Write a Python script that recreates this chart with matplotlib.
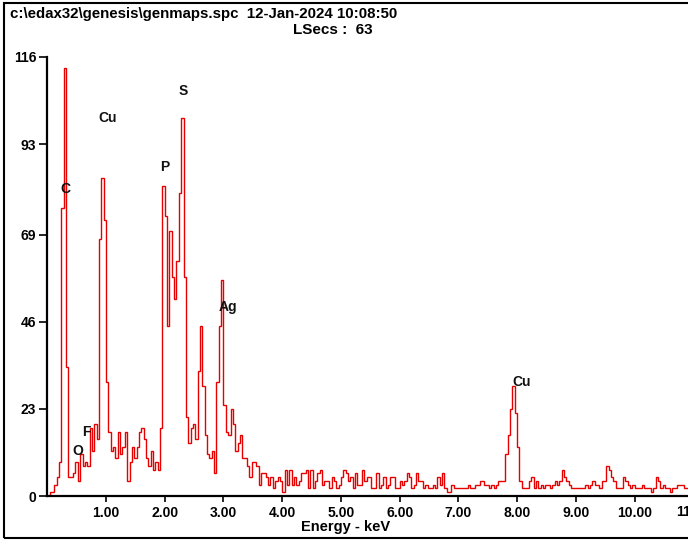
import numpy as np
import matplotlib
matplotlib.use("Agg")
import matplotlib.pyplot as plt
from matplotlib.patches import Rectangle
from matplotlib import transforms

plt.rcParams['font.family'] = ['Liberation Sans', 'DejaVu Sans']

# Spectrum header
HEADER = r"c:\edax32\genesis\genmaps.spc  12-Jan-2024 10:08:50"
LIVE_TIME = "LSecs :  63"

# Energy width of one channel (keV)
CHANNEL_KEV = 0.04

# Counts per channel, starting at 0 keV
counts = [
    0, 1, 1, 3, 5, 9, 76, 113, 34, 5, 5, 6, 9, 4, 11, 8, 9, 8, 18, 12,
    19, 15, 68, 84, 73, 30, 17, 12, 13, 10, 17, 11, 13, 17, 4, 9, 13, 10, 13, 17,
    18, 15, 10, 8, 12, 7, 9, 7, 18, 82, 74, 45, 70, 58, 52, 62, 80, 100, 58, 21,
    14, 18, 19, 15, 33, 45, 29, 16, 11, 10, 12, 6, 30, 45, 57, 24, 17, 16, 23, 19,
    12, 14, 16, 10, 10, 8, 5, 9, 9, 8, 3, 6, 6, 5, 3, 5, 2, 4, 5, 4,
    1, 7, 3, 7, 3, 5, 3, 4, 6, 6, 7, 2, 7, 2, 4, 6, 7, 3, 4, 4,
    2, 5, 4, 2, 3, 5, 7, 6, 4, 5, 2, 6, 3, 3, 7, 4, 5, 5, 2, 2,
    6, 2, 3, 5, 2, 3, 5, 5, 2, 2, 4, 3, 4, 6, 5, 2, 3, 6, 4, 4,
    2, 3, 2, 2, 3, 2, 5, 3, 6, 2, 1, 1, 3, 2, 2, 2, 2, 2, 2, 3,
    2, 2, 3, 3, 4, 4, 3, 3, 2, 3, 2, 3, 4, 4, 4, 11, 16, 23, 29, 22,
    13, 4, 2, 2, 2, 4, 5, 2, 4, 2, 3, 2, 3, 3, 2, 3, 4, 3, 4, 7,
    5, 4, 3, 2, 2, 2, 2, 2, 2, 3, 2, 3, 4, 3, 3, 2, 4, 4, 8, 7,
    5, 4, 2, 2, 2, 5, 4, 3, 2, 3, 2, 2, 2, 3, 2, 2, 2, 1, 2, 5,
    4, 2, 3, 2, 2, 1, 2, 2, 3, 3, 3, 2, 2,
]

# Axis ticks
y_ticks = [0, 23, 46, 69, 93, 116]
x_ticks = [1, 2, 3, 4, 5, 6, 7, 8, 9, 10]
x_tick_labels = ["1.00", "2.00", "3.00", "4.00", "5.00",
                 "6.00", "7.00", "8.00", "9.00", "10.00"]
x_max = 10.91

# Element line labels
peak_labels = ["C", "Cu", "P", "S", "Ag", "Cu", "O", "F"]
peak_energy = [0.30, 1.02, 2.00, 2.31, 3.08, 8.07, 0.52, 0.67]
peak_height = [81, 100, 87, 107, 50, 30, 12, 17]

W, H = 688, 542
fig = plt.figure(figsize=(W / 100, H / 100), dpi=100)
fig.patch.set_facecolor("white")

ax = fig.add_axes([47.3 / W, 46 / H, (W - 47.3) / W, 439 / H])
edges = np.arange(len(counts) + 1) * CHANNEL_KEV
ax.stairs(counts, edges, color="#e60000", linewidth=1.0, baseline=0)

ax.set_xlim(0, x_max)
ax.set_ylim(0, 116)
for side in ("top", "right"):
    ax.spines[side].set_visible(False)
for side in ("left", "bottom"):
    ax.spines[side].set_linewidth(1.6)
    ax.spines[side].set_color("black")

ax.set_yticks(y_ticks)
ax.set_yticklabels([str(v) for v in y_ticks], fontsize=10, fontweight="bold")
ax.set_xticks(x_ticks)
ax.set_xticklabels(x_tick_labels, fontsize=10, fontweight="bold")
ax.tick_params(axis="y", direction="out", length=6, width=1.2, pad=2)
ax.tick_params(axis="x", direction="out", length=4, width=1.2, pad=3)

# Label for the tick that falls just past the right edge
trans = transforms.blended_transform_factory(ax.transData, ax.transAxes)
ax.text(11.0, -0.037, "11.00", transform=trans, ha="center", va="center",
        fontsize=10, fontweight="bold", clip_on=False)

for lab, e, h in zip(peak_labels, peak_energy, peak_height):
    ax.text(e, h, lab, ha="center", va="center", fontsize=10,
            fontweight="bold", color="#111111")

fig.text(346 / W, 1 - 527 / H, "Energy - keV", ha="center", va="center",
         fontsize=10.5, fontweight="bold")
fig.text(10 / W, 1 - 14 / H, HEADER, ha="left", va="center",
         fontsize=10.8, fontweight="bold")
fig.text(293 / W, 1 - 30 / H, LIVE_TIME, ha="left", va="center",
         fontsize=11, fontweight="bold")

# Window frame
fig.patches.append(Rectangle((4 / W, 4 / H), 1.2, 535 / H,
                             transform=fig.transFigure, fill=False,
                             edgecolor="black", linewidth=1.5))

fig.savefig("out.png", dpi=100, facecolor="white")
